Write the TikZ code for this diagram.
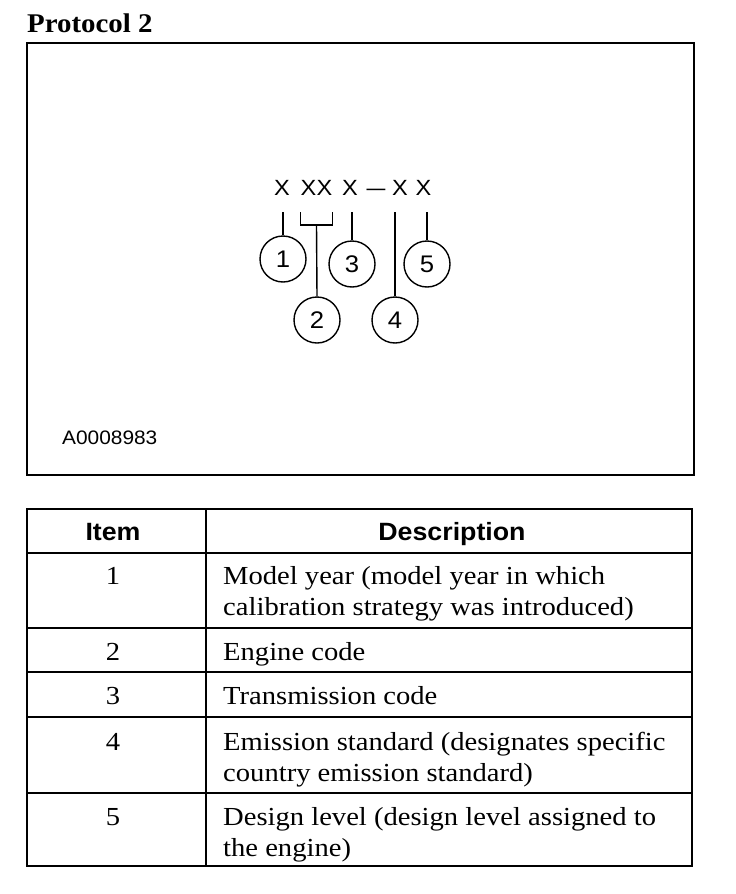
\documentclass[tikz,border=0pt]{standalone}
\usepackage{fontspec}
\setmainfont[FakeStretch=1.07]{Liberation Serif}
\setsansfont[FakeStretch=1.07]{Liberation Sans}
\newfontfamily\tabfont[FakeStretch=1.1]{Liberation Serif}
\usetikzlibrary{calc,positioning}

\tikzset{
  callout/.style={draw, circle, line width=1.4pt, minimum size=46pt, inner sep=0pt,
    font=\sffamily\fontsize{24}{24}\selectfont},
  codechar/.style={inner sep=0pt, outer ysep=17pt, anchor=base, font=\sffamily\fontsize{22}{22}\selectfont},
  leader/.style={line width=1.4pt},
  rule/.style={line width=2.6pt},
  headcell/.style={inner sep=0pt, anchor=base, font=\sffamily\bfseries\fontsize{25}{25}\selectfont},
  numcell/.style={inner sep=0pt, anchor=base, font=\tabfont\fontsize{26}{31}\selectfont},
  desccell/.style={inner sep=0pt, anchor=base west, align=left, font=\tabfont\fontsize{26}{31}\selectfont}
}

\begin{document}
\begin{tikzpicture}[x=1pt,y=-1pt]
  \useasboundingbox (0,0) rectangle (736,894);

  \node[inner sep=0pt, anchor=base west, font=\bfseries\fontsize{27}{27}\selectfont] (title) at (27,32) {Protocol 2};
  \draw[rule] (27,43) rectangle (694,475);

  % code string
  \node[codechar] (x1) at (282,195) {X};
  \node[codechar] (x2) at (308.5,195) {X};
  \node[codechar] (x3) at (324.5,195) {X};
  \node[codechar] (x4) at (350,195) {X};
  \node[codechar] (dash) at (376,195) {\scalebox{0.8}[1]{---}};
  \node[codechar] (x5) at (400,195) {X};
  \node[codechar] (x6) at (423.5,195) {X};

  % callouts
  \node[callout] (c1) at (283,259) {1};
  \node[callout] (c2) at (317,320) {2};
  \node[callout] (c3) at (352,264) {3};
  \node[callout] (c4) at (395,320) {4};
  \node[callout] (c5) at (427,264) {5};

  \coordinate (b2) at ($(x2.south west)!0.5!(x3.south east)+(0,13)$);

  \draw[leader] (x1.south -| c1.north) -- (c1.north);
  \draw[leader] (x2.south west) |- (b2) -| (x3.south east);
  \draw[leader] (b2) -- (c2.north);
  \draw[leader] (x4.south -| c3.north) -- (c3.north);
  \draw[leader] (x5.south -| c4.north) -- (c4.north);
  \draw[leader] (x6.south -| c5.north) -- (c5.north);

  \node[inner sep=0pt, anchor=base west, font=\sffamily\fontsize{19.5}{19.5}\selectfont] (figid) at (62,444) {A0008983};

  % table
  \draw[rule] (27,509) rectangle (692,866);
  \draw[rule] (206,509) -- (206,866);
  \foreach \y in {553,628,672,717,793}
    \draw[rule] (27,\y) -- (692,\y);

  \node[headcell] (hitem) at (113,540) {Item};
  \node[headcell] (hdesc) at (452,540) {Description};

  \node[numcell] (n1) at (113,584) {1};
  \node[numcell] (n2) at (113,660) {2};
  \node[numcell] (n3) at (113,704) {3};
  \node[numcell] (n4) at (113,750) {4};
  \node[numcell] (n5) at (113,825) {5};

  % two-line cells sit on their last line
  \node[desccell] (d1) at (223,615) {Model year (model year in which\\calibration strategy was introduced)};
  \node[desccell] (d2) at (223,660) {Engine code};
  \node[desccell] (d3) at (223,704) {Transmission code};
  \node[desccell] (d4) at (223,781) {Emission standard (designates specific\\country emission standard)};
  \node[desccell] (d5) at (223,856) {Design level (design level assigned to\\the engine)};
\end{tikzpicture}
\end{document}
